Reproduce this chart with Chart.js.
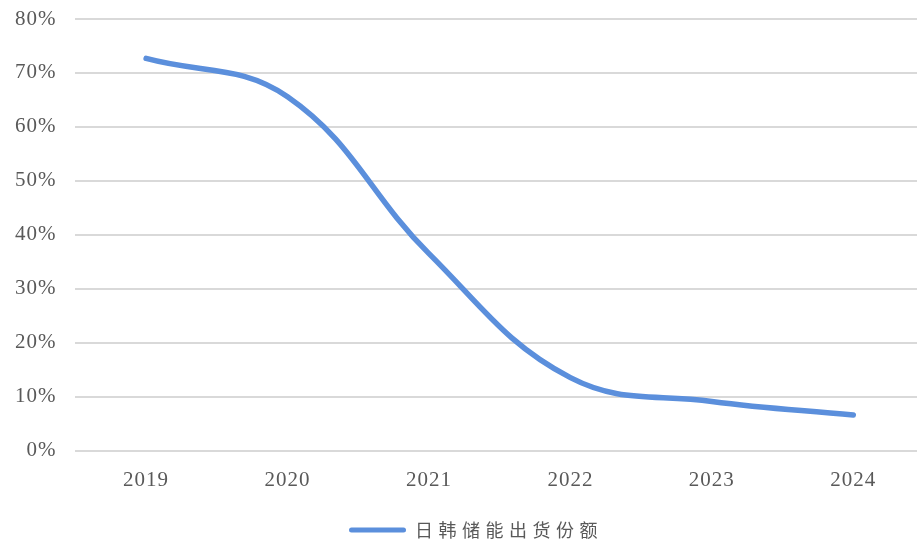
<!DOCTYPE html>
<html>
<head>
<meta charset="utf-8">
<script src="https://cdn.jsdelivr.net/npm/chart.js@4/dist/chart.umd.min.js"></script>
<style>
  html, body { margin: 0; padding: 0; background: #ffffff; overflow: hidden; }
  #wrap { width: 917px; height: 539px; overflow: hidden; position: relative; }
  #box { width: 952px; height: 539px; position: absolute; left: 0; top: 0; }
</style>
</head>
<body>
<div id="wrap"><div id="box"><canvas id="c"></canvas></div></div>
<script>
// Share of energy-storage shipments held by Japanese and Korean makers (%)
const years = ['2019', '2020', '2021', '2022', '2023', '2024'];
const shareValues = [72.7, 65.6, 36.5, 13.5, 9.1, 6.6];
const seriesName = '日韩储能出货份额';
const yTicks = [0, 10, 20, 30, 40, 50, 60, 70, 80];

const lineColor = '#5B8FDC';
const tickColor = '#595959';
const gridColor = '#d9d9d9';

// Canvas letter spacing for axis text; the legend gets a wider spacing.
const baseSpacing = '1px';
const legendSpacing = '5.5px';
// Legend nudge so it sits centred under the whole figure, close to the bottom edge.
const legendShift = { x: 14, y: 10 };

const spacingPlugin = {
  id: 'spacing',
  afterInit(chart) {
    const lg = chart.legend;
    if (lg) {
      const fit = lg.fit.bind(lg);
      const draw = lg.draw.bind(lg);
      lg.fit = function () {
        chart.ctx.letterSpacing = legendSpacing;
        fit();
        chart.ctx.letterSpacing = baseSpacing;
      };
      lg.draw = function () {
        const ctx = chart.ctx;
        ctx.save();
        ctx.letterSpacing = legendSpacing;
        ctx.translate(legendShift.x, legendShift.y);
        draw();
        ctx.restore();
        ctx.letterSpacing = baseSpacing;
      };
    }
  },
  beforeLayout(chart) { chart.ctx.letterSpacing = baseSpacing; },
  beforeDraw(chart) { chart.ctx.letterSpacing = baseSpacing; }
};

new Chart(document.getElementById('c'), {
  type: 'line',
  data: {
    labels: years,
    datasets: [{
      label: seriesName,
      data: shareValues,
      borderColor: lineColor,
      backgroundColor: lineColor,
      borderWidth: 5.5,
      borderCapStyle: 'round',
      borderJoinStyle: 'round',
      pointRadius: 0,
      pointHoverRadius: 0,
      tension: 0.4,
      fill: false
    }]
  },
  options: {
    responsive: true,
    maintainAspectRatio: false,
    animation: false,
    events: [],
    layout: { padding: { top: 19, right: 28, bottom: 0, left: 0 } },
    plugins: {
      tooltip: { enabled: false },
      legend: {
        display: true,
        position: 'bottom',
        labels: {
          boxWidth: 57,
          boxHeight: 5,
          padding: 3,
          color: tickColor,
          font: { family: '"Noto Sans CJK SC", sans-serif', size: 18 },
          generateLabels(chart) {
            return chart.data.datasets.map((ds, i) => ({
              text: ds.label,
              fillStyle: ds.borderColor,
              strokeStyle: ds.borderColor,
              lineWidth: 0,
              borderRadius: 2.5,
              datasetIndex: i,
              hidden: false,
              fontColor: tickColor
            }));
          },
          useBorderRadius: true,
          borderRadius: 2.5
        }
      }
    },
    scales: {
      x: {
        offset: true,
        grid: { display: false, drawTicks: false },
        border: { display: false },
        ticks: {
          padding: 17,
          color: tickColor,
          font: { family: '"Liberation Serif", "Times New Roman", serif', size: 21 },
          maxRotation: 0
        },
        afterFit(scale) { scale.height = 57.5; }
      },
      y: {
        min: 0,
        max: 80,
        afterBuildTicks(scale) { scale.ticks = yTicks.map(v => ({ value: v })); },
        grid: { color: gridColor, lineWidth: 2, drawTicks: false },
        border: { display: false },
        ticks: {
          padding: 19,
          color: tickColor,
          font: { family: '"Liberation Serif", "Times New Roman", serif', size: 21 },
          callback: v => v + '%'
        },
        afterFit(scale) {
          scale.width = 75.4;
          scale.paddingTop = 0;
          scale.paddingBottom = 0;
        }
      }
    }
  },
  plugins: [spacingPlugin]
});
</script>
</body>
</html>
